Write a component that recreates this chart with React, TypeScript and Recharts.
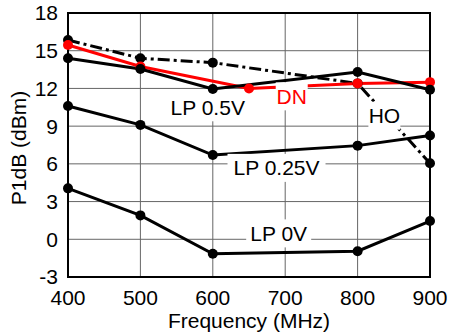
import React from "react";
import {
  LineChart, Line, XAxis, YAxis, CartesianGrid, ReferenceArea, ReferenceDot,
} from "recharts";

const FREQ_TICKS = [400, 500, 600, 700, 800, 900];
const P1DB_TICKS = [-3, 0, 3, 6, 9, 12, 15, 18];

const HO_FREQ = [400, 500, 600, 800, 900];
const HO_P1DB = [15.85, 14.4, 14.05, 12.4, 6.05];

const DN_FREQ = [400, 500, 650, 800, 900];
const DN_P1DB = [15.45, 13.75, 12.0, 12.4, 12.5];

const LP_FREQ = [400, 500, 600, 800, 900];
const LP05_P1DB = [14.4, 13.55, 11.95, 13.3, 11.9];
const LP025_P1DB = [10.6, 9.1, 6.7, 7.45, 8.25];
const LP0_P1DB = [4.05, 1.9, -1.15, -0.95, 1.45];

// series label positions (freq, p1dB)
const LABELS = [
  { text: "LP 0.5V", x: 593, y: 10.5, color: "#000" },
  { text: "DN", x: 709, y: 11.37, color: "#ff0000" },
  { text: "HO", x: 837, y: 9.83, color: "#000" },
  { text: "LP 0.25V", x: 688, y: 5.68, color: "#000" },
  { text: "LP 0V", x: 691, y: 0.47, color: "#000" },
];

const FONT = "'Liberation Sans', Arial, sans-serif";
const FS = 21;

const toPoints = (xs: number[], ys: number[]) => xs.map((f, i) => ({ f, v: ys[i] }));

function makeLabelShape(text: string, color: string) {
  // eslint-disable-next-line @typescript-eslint/no-explicit-any
  return (props: any) => {
    const { cx, cy } = props;
    const w = text.length * 11 + 10;
    return (
      <g>
        <rect x={cx - w / 2} y={cy - 14} width={w} height={28} fill="#fff" />
        <text
          x={cx}
          y={cy}
          textAnchor="middle"
          dominantBaseline="central"
          fontSize={FS}
          fontFamily={FONT}
          fill={color}
        >
          {text}
        </text>
      </g>
    );
  };
}

export default function App() {
  const dot = { r: 5, fill: "#000", stroke: "#000", strokeWidth: 0 };
  const redDot = { r: 5, fill: "#ff0000", stroke: "#ff0000", strokeWidth: 0 };
  const tick = { fill: "#000", fontSize: FS, fontFamily: FONT };

  return (
    <div style={{ width: 449, height: 335, background: "#fff" }}>
      <style>{`body{margin:0}`}</style>
      <LineChart width={449} height={335} margin={{ top: 13, right: 19, left: 0, bottom: 0 }}>
        <CartesianGrid stroke="#666" strokeWidth={1} />
        <XAxis
          type="number"
          dataKey="f"
          domain={[400, 900]}
          ticks={FREQ_TICKS}
          tick={tick}
          tickSize={0}
          tickMargin={13}
          axisLine={false}
          height={58}
          label={{
            content: () => (
              <text x={249} y={320} textAnchor="middle" dominantBaseline="central"
                fontSize={FS} fontFamily={FONT} fill="#000">
                Frequency (MHz)
              </text>
            ),
          }}
        />
        <YAxis
          type="number"
          dataKey="v"
          domain={[-3, 18]}
          ticks={P1DB_TICKS}
          tick={tick}
          tickSize={0}
          tickMargin={10}
          axisLine={false}
          width={68}
          label={{
            content: () => (
              <text x={18} y={148} transform="rotate(-90 18 148)" textAnchor="middle"
                dominantBaseline="central" fontSize={FS} fontFamily={FONT} fill="#000">
                P1dB (dBm)
              </text>
            ),
          }}
        />
        <ReferenceArea x1={400} x2={900} y1={-3} y2={18} fill="none" stroke="#000" strokeWidth={2} />
        {LABELS.map((l) => (
          <ReferenceDot key={l.text} x={l.x} y={l.y} r={0} shape={makeLabelShape(l.text, l.color)} />
        ))}
        <Line data={toPoints(HO_FREQ, HO_P1DB)} dataKey="v" stroke="#000" strokeWidth={3}
          strokeDasharray="12 4 3 4" dot={dot} activeDot={false} isAnimationActive={false} />
        <Line data={toPoints(DN_FREQ, DN_P1DB)} dataKey="v" stroke="#ff0000" strokeWidth={3}
          dot={redDot} activeDot={false} isAnimationActive={false} />
        <Line data={toPoints(LP_FREQ, LP05_P1DB)} dataKey="v" stroke="#000" strokeWidth={3}
          dot={dot} activeDot={false} isAnimationActive={false} />
        <Line data={toPoints(LP_FREQ, LP025_P1DB)} dataKey="v" stroke="#000" strokeWidth={3}
          dot={dot} activeDot={false} isAnimationActive={false} />
        <Line data={toPoints(LP_FREQ, LP0_P1DB)} dataKey="v" stroke="#000" strokeWidth={3}
          dot={dot} activeDot={false} isAnimationActive={false} />
      </LineChart>
    </div>
  );
}
